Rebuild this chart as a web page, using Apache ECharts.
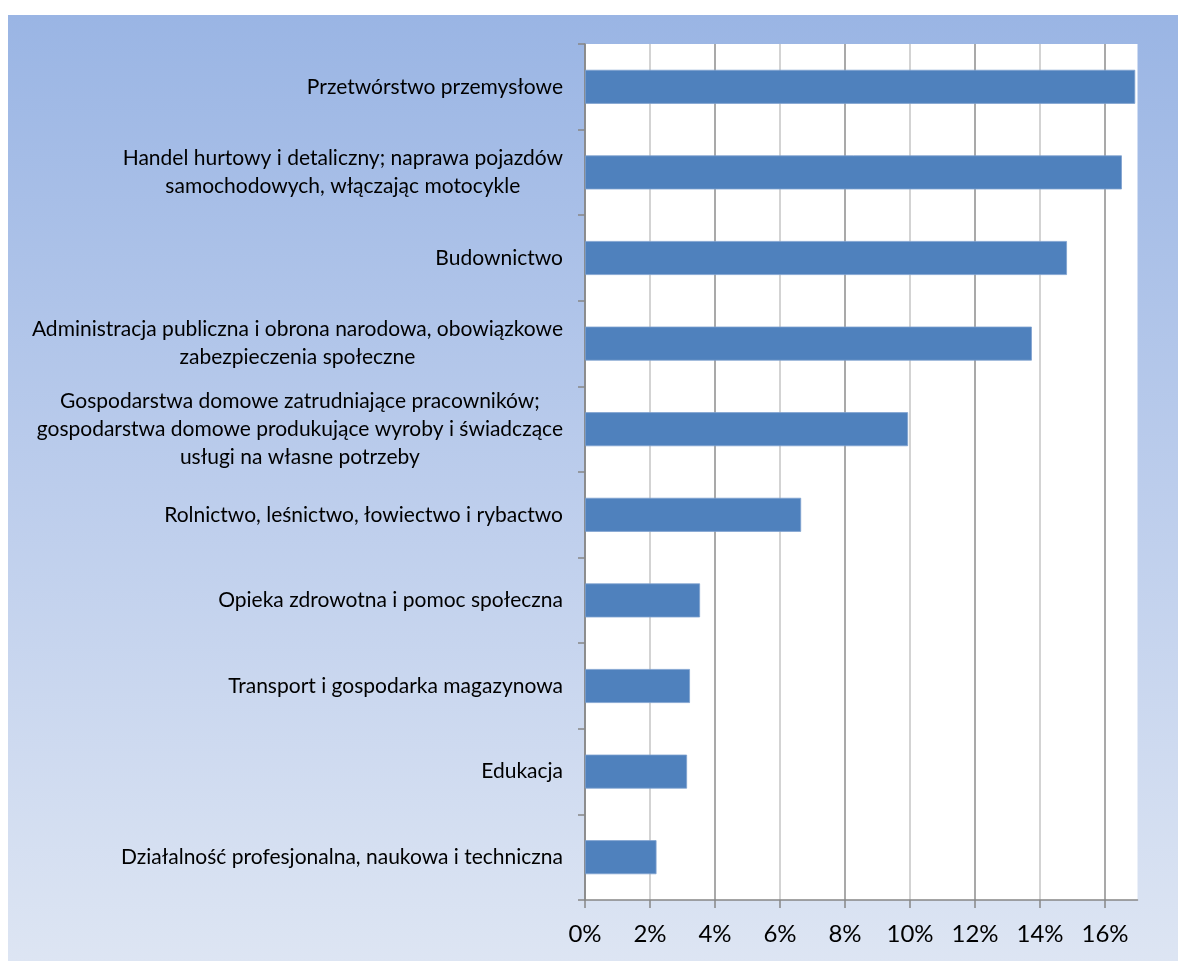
<!DOCTYPE html>
<html>
<head>
<meta charset="utf-8">
<script src="https://cdn.jsdelivr.net/npm/echarts@6/dist/echarts.min.js"></script>
<style>
  html, body { margin: 0; padding: 0; background: #ffffff; }
  #chart { position: absolute; left: 8px; top: 15px; width: 1170px; height: 946px; }
</style>
</head>
<body>
<div id="chart"></div>
<script>
const categories = [
  "Przetwórstwo przemysłowe",
  "Handel hurtowy i detaliczny; naprawa pojazdów\nsamochodowych, włączając motocykle",
  "Budownictwo",
  "Administracja publiczna i obrona narodowa, obowiązkowe\nzabezpieczenia społeczne",
  "Gospodarstwa domowe zatrudniające pracowników;\ngospodarstwa domowe produkujące wyroby i świadczące\nusługi na własne potrzeby",
  "Rolnictwo, leśnictwo, łowiectwo i rybactwo",
  "Opieka zdrowotna i pomoc społeczna",
  "Transport i gospodarka magazynowa",
  "Edukacja",
  "Działalność profesjonalna, naukowa i techniczna"
];
const values = [16.93, 16.52, 14.83, 13.75, 9.94, 6.65, 3.54, 3.23, 3.14, 2.2];
const xTickValues = [0, 2, 4, 6, 8, 10, 12, 14, 16];

const chart = echarts.init(document.getElementById('chart'));
chart.setOption({
  backgroundColor: {
    type: 'linear', x: 0, y: 0, x2: 0, y2: 1,
    colorStops: [
      { offset: 0, color: '#9ab5e4' },
      { offset: 0.5, color: '#bccdec' },
      { offset: 1, color: '#dde5f3' }
    ]
  },
  animation: false,
  textStyle: { fontFamily: 'Lato' },
  grid: {
    left: 577, top: 29, right: 40.5, bottom: 61,
    show: true, backgroundColor: '#ffffff', borderWidth: 0
  },
  xAxis: {
    type: 'value',
    min: 0, max: 17, interval: 1,
    axisLine: { show: true, lineStyle: { color: '#868686', width: 1.5 } },
    axisTick: { show: true, length: 8, customValues: xTickValues, lineStyle: { color: '#868686', width: 1.5 } },
    axisLabel: {
      customValues: xTickValues,
      formatter: v => v + '%',
      fontSize: 24, color: '#000', margin: 22, fontFamily: 'Lato'
    },
    splitLine: { show: true, lineStyle: { color: ['#8c8c8c', '#c4c4c4'], width: 1.5 } }
  },
  yAxis: {
    type: 'category',
    inverse: true,
    data: categories,
    axisLine: { show: true, lineStyle: { color: '#868686', width: 1.5 } },
    axisTick: { show: true, length: 7, lineStyle: { color: '#868686', width: 1.5 } },
    axisLabel: {
      align: 'right', margin: 22, color: '#000', fontSize: 21, lineHeight: 28,
      formatter: v => v.split('\n').map(l => '{c|' + l + '}').join('\n'),
      rich: { c: { align: 'center', fontSize: 21, lineHeight: 28, color: '#000', fontFamily: 'Lato' } }
    },
    splitLine: { show: false }
  },
  series: [{
    type: 'bar',
    data: values,
    barWidth: 34,
    itemStyle: { color: '#4f81bd', borderColor: '#7fa1cf', borderWidth: 0.8 }
  }]
});
</script>
</body>
</html>
